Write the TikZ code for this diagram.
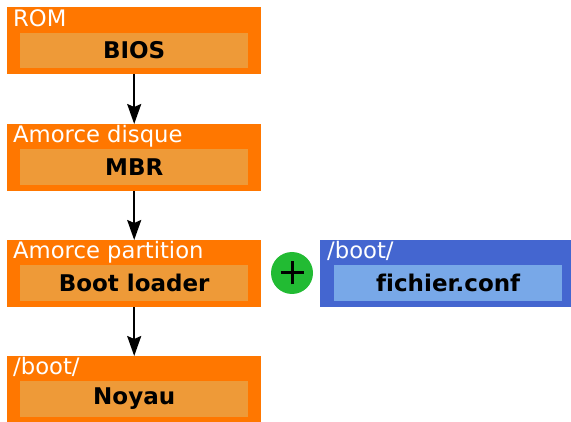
\documentclass[tikz,border=0pt]{standalone}
\usepackage{fontspec}
\setmainfont[Ligatures=NoCommon]{DejaVu Sans}
\usetikzlibrary{arrows.meta}
\definecolor{orOut}{HTML}{FF7700}
\definecolor{orIn}{HTML}{EE9A38}
\definecolor{blOut}{HTML}{4466D0}
\definecolor{blIn}{HTML}{78A8E8}
\definecolor{grn}{HTML}{22BB33}
\tikzset{
  outerbox/.style={fill=#1, draw=none, minimum width=254pt, minimum height=67pt, inner sep=0pt, anchor=north west},
  innerbox/.style={fill=#1, draw=none, minimum width=228pt, minimum height=35.5pt, inner sep=0pt, anchor=north west,
    font=\fontsize{23}{27}\selectfont\bfseries, text=black},
  headtext/.style={anchor=base west, inner sep=0pt, text=white, font=\fontsize{22.7}{26}\selectfont},
  arr/.style={line width=2pt, -{Stealth[length=20pt,width=14pt,inset=3pt]}}
}
\begin{document}
\begin{tikzpicture}[x=1pt,y=-1pt]
\useasboundingbox (0,0) rectangle (571,422);
% box 1
\node[outerbox=orOut] (b1) at (7,7) {};
\node[innerbox=orIn] (i1) at (20,32.5) {BIOS};
\node[headtext] (h1) at (13,26.5) {ROM};
% box 2
\node[outerbox=orOut] (b2) at (7,124) {};
\node[innerbox=orIn] (i2) at (20,149) {MBR};
\node[headtext] (h2) at (13,143) {Amorce disque};
% box 3
\node[outerbox=orOut] (b3) at (7,240) {};
\node[innerbox=orIn] (i3) at (20,265) {Boot loader};
\node[headtext] (h3) at (13,259) {Amorce partition};
% box 4
\node[outerbox=orOut] (b4) at (7,356) {};
\node[innerbox=orIn] (i4) at (20,381) {Noyau};
\node[headtext] (h4) at (13,375) {/boot/};
% blue box
\node[outerbox=blOut, minimum width=251pt] (b5) at (320,240) {};
\node[innerbox=blIn] (i5) at (334,265) {fichier.conf};
\node[headtext] (h5) at (327,259) {/boot/};
% plus
\node[circle, fill=grn, minimum size=42pt, inner sep=0pt] (plus) at (292,273) {};
\draw[line width=3pt] ([xshift=-11.5pt]plus.center) -- ([xshift=11.5pt]plus.center);
\draw[line width=3pt] ([yshift=-11.5pt]plus.center) -- ([yshift=11.5pt]plus.center);
% arrows
\draw[arr] (b1.south) -- (b2.north);
\draw[arr] (b2.south) -- (b3.north);
\draw[arr] (b3.south) -- (b4.north);
\end{tikzpicture}
\end{document}
